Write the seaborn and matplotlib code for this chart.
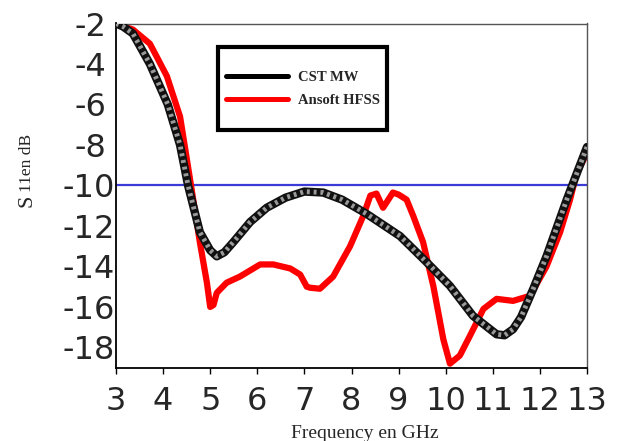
import numpy as np
import pandas as pd
import matplotlib
matplotlib.use("Agg")
import matplotlib.pyplot as plt
import matplotlib.transforms as mtransforms
from matplotlib.lines import Line2D
from matplotlib.patches import Rectangle
import seaborn as sns

cst_freq = [3, 3.15, 3.36, 3.72, 4.1, 4.36, 4.53, 4.78, 5.0, 5.14, 5.3, 5.49, 5.85, 6.2,
            6.6, 7.0, 7.4, 7.8, 8.32, 9.03, 9.6, 10.09, 10.58, 11.08, 11.25, 11.43, 11.6,
            11.86, 12.14, 12.57, 12.8, 13]
cst_s11 = [-2, -2.15, -2.5, -4, -6, -8, -10, -12.3, -13.2, -13.5, -13.3, -12.8, -11.8, -11.1,
           -10.6, -10.3, -10.35, -10.7, -11.4, -12.5, -13.8, -14.96, -16.44, -17.35, -17.4,
           -17.1, -16.5, -15.1, -13.5, -10.7, -9.3, -8.1]

hfss_freq = [3, 3.36, 3.72, 4.08, 4.36, 4.47, 4.64, 4.78, 4.93, 5.0, 5.07, 5.14, 5.35, 5.63,
             6.06, 6.34, 6.7, 6.91, 7.05, 7.12, 7.33, 7.61, 7.97, 8.25, 8.4, 8.53, 8.67, 8.88,
             9.0, 9.17, 9.31, 9.52, 9.74, 9.95, 10.09, 10.3, 10.52, 10.8, 11.08, 11.43, 11.79,
             12.14, 12.43, 12.64, 12.78, 13]
hfss_s11 = [-2, -2.3, -3.0, -4.6, -6.6, -8.2, -10.7, -12.8, -14.8, -16.0, -15.9, -15.3, -14.8,
            -14.5, -13.9, -13.9, -14.1, -14.4, -15.0, -15.05, -15.1, -14.5, -13.0, -11.5, -10.5,
            -10.4, -11.1, -10.35, -10.45, -10.7, -11.5, -12.8, -15.0, -17.6, -18.8, -18.4,
            -17.4, -16.1, -15.6, -15.7, -15.45, -14.0, -12.3, -10.7, -9.4, -8.4]

x_ticks = [3, 4, 5, 6, 7, 8, 9, 10, 11, 12, 13]
y_ticks = [-2, -4, -6, -8, -10, -12, -14, -16, -18]
threshold = -10
series_names = ["CST MW", "Ansoft HFSS"]

sns.set_style("ticks")
plt.rcParams['font.family'] = ['DejaVu Sans']

W, H = 619, 441
fig = plt.figure(figsize=(W / 100, H / 100), dpi=100)
ax = fig.add_axes([116 / W, 1 - 367.7 / H, (587 - 116) / W, (367.7 - 23.5) / H])

def fx(px):
    return px / W

def fy(py):
    return 1 - py / H

df_cst = pd.DataFrame({"f": cst_freq, "s": cst_s11})
df_hfss = pd.DataFrame({"f": hfss_freq, "s": hfss_s11})

ax.axhline(threshold, color="#3b3bd6", lw=1.6, zorder=1)
sns.lineplot(data=df_hfss, x="f", y="s", ax=ax, color="#ff0000", lw=4.5, zorder=2)
sns.lineplot(data=df_cst, x="f", y="s", ax=ax, color="#111111", lw=6, zorder=3)
sns.lineplot(data=df_cst, x="f", y="s", ax=ax, color="#9a9a9a", lw=3.5, zorder=4)
ax.lines[-1].set_dashes([0.6, 0.8])

ax.set_xlim(3, 13)
ax.set_ylim(-19, -2)
ax.set_xticks(x_ticks)
ax.set_yticks(y_ticks)
ax.set_xticklabels([str(t) for t in x_ticks])
ax.set_yticklabels([str(t) for t in y_ticks])
ax.tick_params(axis="x", labelsize=23, direction="out", length=4, width=1,
               color="black", pad=9.4)
ax.tick_params(axis="y", labelsize=23, direction="out", length=0, pad=1)
for lab, t in zip(ax.get_yticklabels(), y_ticks):
    if len(str(t)) == 2:
        lab.set_transform(lab.get_transform() +
                          mtransforms.ScaledTranslation(-8 / 100, 0, fig.dpi_scale_trans))
for s in ["left", "bottom"]:
    ax.spines[s].set_color("black")
    ax.spines[s].set_linewidth(1.3)
for s in ["top", "right"]:
    ax.spines[s].set_color("#555555")
    ax.spines[s].set_linewidth(1.0)

ax.set_xlabel("")
ax.set_ylabel("")

# axis titles
fig.text(fx(365), fy(438), "Frequency en GHz", family=["Liberation Serif"], fontsize=14,
         ha="center", va="baseline")
fig.text(fx(31.5), fy(201), "S", family=["Liberation Serif"], fontsize=16, rotation=90,
         rotation_mode="anchor", ha="center", va="baseline")
fig.text(fx(31), fy(163), "11en dB", family=["Liberation Serif"], fontsize=12.5, rotation=90,
         rotation_mode="anchor", ha="center", va="baseline")

# legend box
fig.add_artist(Rectangle((fx(218), fy(130)), fx(387) - fx(218), fy(47) - fy(130),
                         transform=fig.transFigure, facecolor="white", edgecolor="black",
                         lw=3, zorder=10))
for yy, col, name in [(76, "black", series_names[0]), (99, "#ff0000", series_names[1])]:
    fig.add_artist(Line2D([fx(226), fx(288)], [fy(yy), fy(yy)], transform=fig.transFigure,
                          color=col, lw=3.6, solid_capstyle="round", zorder=11))
    fig.text(fx(298), fy(yy + 5), name, family=["Liberation Serif"], weight="bold",
             fontsize=10.5, ha="left", va="baseline", zorder=12)

fig.savefig("out.png", dpi=100)
